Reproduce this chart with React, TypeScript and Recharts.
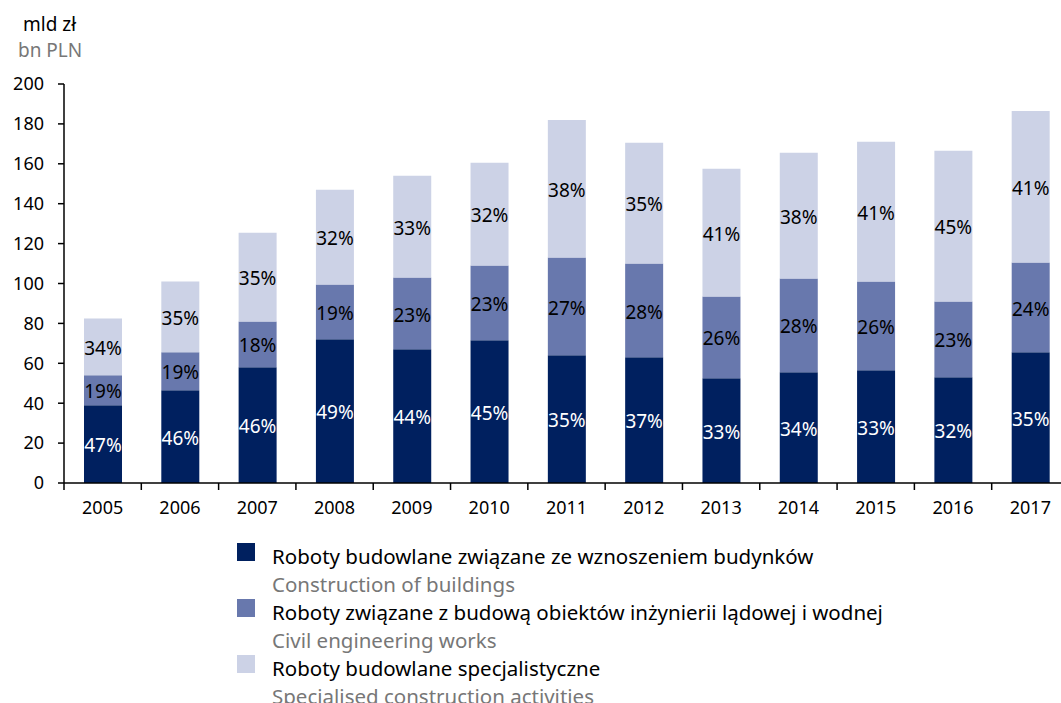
import React from 'react';
import { BarChart, Bar, XAxis, YAxis, LabelList } from 'recharts';

const years = ['2005', '2006', '2007', '2008', '2009', '2010', '2011', '2012', '2013', '2014', '2015', '2016', '2017'];
const buildings = [39, 46.5, 58, 72, 67, 71.5, 64, 63, 52.5, 55.5, 56.5, 53, 65.5];
const civil = [15, 19, 23, 27.5, 36, 37.5, 49, 47, 41, 47, 44.5, 38, 45];
const specialised = [28.5, 35.5, 44.5, 47.5, 51, 51.5, 69, 60.5, 64, 63, 70, 75.5, 76];

const pctBuildings = ['47%', '46%', '46%', '49%', '44%', '45%', '35%', '37%', '33%', '34%', '33%', '32%', '35%'];
const pctCivil = ['19%', '19%', '18%', '19%', '23%', '23%', '27%', '28%', '26%', '28%', '26%', '23%', '24%'];
const pctSpecial = ['34%', '35%', '35%', '32%', '33%', '32%', '38%', '35%', '41%', '38%', '41%', '45%', '41%'];

const yTicks = [0, 20, 40, 60, 80, 100, 120, 140, 160, 180, 200];

const legendItems = [
  { color: '#00205f', pl: 'Roboty budowlane związane ze wznoszeniem budynków', en: 'Construction of buildings' },
  { color: '#6878ad', pl: 'Roboty związane z budową obiektów inżynierii lądowej i wodnej', en: 'Civil engineering works' },
  { color: '#ccd2e6', pl: 'Roboty budowlane specjalistyczne', en: 'Specialised construction activities' },
];

const FONT = '"Noto Sans", sans-serif';
const STEP = 1005 / 13;

const data = years.map((year, i) => ({
  year,
  buildings: buildings[i],
  civil: civil[i],
  specialised: specialised[i],
}));

const makeLabel = (labels: string[], color: string) => (props: any) => {
  const { x, y, width, height, index } = props;
  return (
    <text
      x={x + width / 2}
      y={y + height / 2 + 3}
      textAnchor="middle"
      dominantBaseline="middle"
      fill={color}
      fontSize={19}
      fontFamily={FONT}
    >
      {labels[index]}
    </text>
  );
};

const XTick = ({ x, y, payload }: any) => (
  <g>
    <line x1={x - STEP / 2} x2={x - STEP / 2} y1={y} y2={y + 7} stroke="#000" strokeWidth={1.5} />
    <text x={x} y={y + 26} textAnchor="middle" dominantBaseline="middle" fill="#000" fontSize={18} fontFamily={FONT}>
      {payload.value}
    </text>
  </g>
);

export default function App() {
  return (
    <div
      style={{
        position: 'absolute',
        left: 0,
        top: 0,
        width: 1061,
        height: 703,
        overflow: 'hidden',
        background: '#fff',
        fontFamily: FONT,
      }}
    >
      <div style={{ position: 'absolute', left: 23, top: 13, fontSize: 19, lineHeight: '22px', color: '#000' }}>mld zł</div>
      <div style={{ position: 'absolute', left: 18, top: 39, fontSize: 19, lineHeight: '22px', color: '#777' }}>bn PLN</div>

      <div style={{ position: 'absolute', left: 0, top: 0 }}>
        <BarChart width={1069} height={530} data={data} margin={{ top: 84, right: 0, bottom: 0, left: 0 }} barSize={38}>
          <XAxis
            dataKey="year"
            height={47}
            axisLine={{ stroke: '#000', strokeWidth: 1.5 }}
            tickLine={false}
            tickSize={0}
            tickMargin={0}
            tick={<XTick />}
            interval={0}
          />
          <YAxis
            width={64}
            domain={[0, 200]}
            ticks={yTicks}
            interval={0}
            axisLine={{ stroke: '#000', strokeWidth: 1.5 }}
            tickLine={{ stroke: '#000', strokeWidth: 1.5 }}
            tickSize={6}
            tickMargin={14}
            tick={{ fill: '#000', fontSize: 18, fontFamily: FONT }}
          />
          <Bar dataKey="buildings" stackId="a" fill="#00205f" isAnimationActive={false}>
            <LabelList dataKey="buildings" content={makeLabel(pctBuildings, '#fff')} />
          </Bar>
          <Bar dataKey="civil" stackId="a" fill="#6878ad" isAnimationActive={false}>
            <LabelList dataKey="civil" content={makeLabel(pctCivil, '#000')} />
          </Bar>
          <Bar dataKey="specialised" stackId="a" fill="#ccd2e6" isAnimationActive={false}>
            <LabelList dataKey="specialised" content={makeLabel(pctSpecial, '#000')} />
          </Bar>
        </BarChart>
      </div>

      <div style={{ position: 'absolute', left: 237, top: 542 }}>
        {legendItems.map((item) => (
          <div key={item.pl} style={{ position: 'relative', height: 56 }}>
            <div style={{ position: 'absolute', left: 0, top: 1, width: 18, height: 18, background: item.color }} />
            <div style={{ position: 'absolute', left: 35, top: 0, fontSize: 20.5, lineHeight: '28px', whiteSpace: 'nowrap' }}>
              <div style={{ color: '#000' }}>{item.pl}</div>
              <div style={{ color: '#777' }}>{item.en}</div>
            </div>
          </div>
        ))}
      </div>
    </div>
  );
}
